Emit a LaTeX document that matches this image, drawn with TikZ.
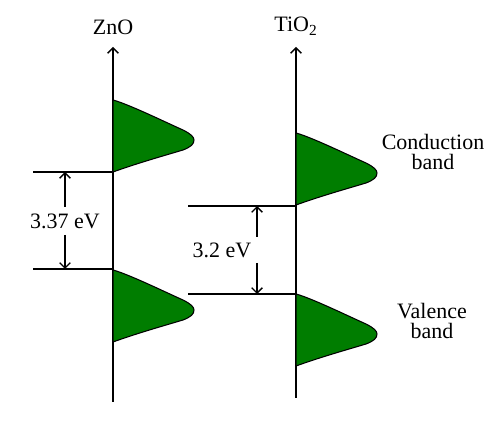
\documentclass[tikz,border=0pt]{standalone}
\usepackage{fontspec}
\setmainfont{Liberation Serif}
\usetikzlibrary{arrows.meta}
\definecolor{bandgreen}{RGB}{0,125,0}
\tikzset{
  pics/band/.style={code={
    \draw[line width=0.6pt, fill=bandgreen] (0,0) .. controls (15,4) and (50,21) .. (70,30)
      .. controls (78,34) and (81,37) .. (81,40)
      .. controls (81,44) and (78,47) .. (70,50)
      .. controls (50,56) and (25,63) .. (0,72) -- cycle;
  }}
}
\begin{document}
\begin{tikzpicture}[x=0.2mm, y=-0.2mm, line width=0.8pt,
  >={Straight Barb[length=3pt,width=6pt]},
  lbl/.style={font=\fontsize{12.5}{11}\selectfont, align=center}]
  \useasboundingbox (0,0) rectangle (500,421);

  % axes
  \coordinate (zno-bot) at (113,402);
  \coordinate (zno-top) at (113,47);
  \coordinate (tio-bot) at (296,398);
  \coordinate (tio-top) at (296,47);
  \draw[->] (zno-bot) -- (zno-top) node[lbl, above=3pt] (zno) {ZnO};
  \draw[->] (tio-bot) -- (tio-top) node[lbl, above=3pt] (tio) {TiO\textsubscript{2}};

  % bands
  \pic at (113,100) {band};
  \pic at (113,270) {band};
  \pic at (296,133) {band};
  \pic at (296,294) {band};

  % band edges
  \coordinate (zcb-l) at (33,172);
  \coordinate (zcb-r) at (113,172);
  \coordinate (zvb-l) at (33,269);
  \coordinate (zvb-r) at (113,269);
  \coordinate (tcb-l) at (188,206);
  \coordinate (tcb-r) at (296,206);
  \coordinate (tvb-l) at (188,294);
  \coordinate (tvb-r) at (296,294);
  \draw (zcb-l) -- (zcb-r);
  \draw (zvb-l) -- (zvb-r);
  \draw (tcb-l) -- (tcb-r);
  \draw (tvb-l) -- (tvb-r);

  % gaps
  \node[lbl] (gap-zno) at (65,221) {3.37 eV};
  \draw[->] (gap-zno) -- (zcb-l -| gap-zno);
  \draw[->] (gap-zno) -- (zvb-l -| gap-zno);

  \node[lbl] (gap-tio) at (222,250) {3.2 eV};
  \coordinate (tup) at (257,237);
  \coordinate (tdn) at (257,263);
  \draw[->] (tup) -- (tcb-l -| tup);
  \draw[->] (tdn) -- (tvb-l -| tdn);

  \node[lbl] (cond) at (433,152) {Conduction\\band};
  \node[lbl] (val) at (432,321) {Valence\\band};
\end{tikzpicture}
\end{document}
